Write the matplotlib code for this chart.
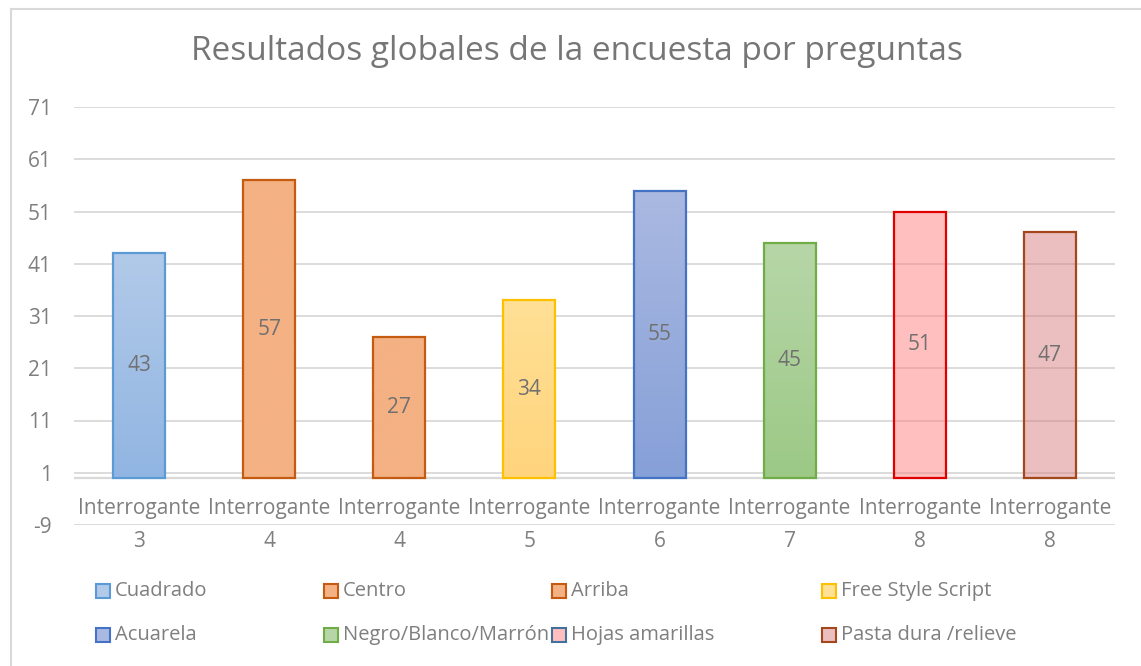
import matplotlib
matplotlib.use("Agg")
import matplotlib.pyplot as plt
import matplotlib.patches as mpatches
import matplotlib.colors as mcolors
import numpy as np

plt.rcParams['font.family'] = ['Open Sans', 'DejaVu Sans']

# ---- data ----
series = ["Cuadrado", "Centro", "Arriba", "Free Style Script",
          "Acuarela", "Negro/Blanco/Marrón", "Hojas amarillas", "Pasta dura /relieve"]
cat_top = ["Interrogante"] * 8
cat_num = ["3", "4", "4", "5", "6", "7", "8", "8"]
values = [43, 57, 27, 34, 55, 45, 51, 47]
yticks = [-9, 1, 11, 21, 31, 41, 51, 61, 71]
title = "Resultados globales de la encuesta por preguntas"

# style (top colour, bottom colour, edge, alpha)
fill_top = ["#B2CAE9", "#F4B183", "#F4B183", "#FFE095", "#AAB9E1", "#B7D6A8", "#FF8080", "#D98080"]
fill_bot = ["#91B5E2", "#F4B183", "#F4B183", "#FFD47D", "#86A0D8", "#9CC986", "#FF8080", "#D98080"]
edges = ["#5B9BD5", "#C55A11", "#C55A11", "#FFC000", "#4472C4", "#70AD47", "#E00000", "#A5471C"]
alphas = [1, 1, 1, 1, 1, 1, 0.5, 0.5]
legend_edges = ["#5B9BD5", "#C55A11", "#C55A11", "#FFC000", "#4472C4", "#70AD47", "#41719C", "#A5471C"]

W, H = 1141, 666
fig = plt.figure(figsize=(W / 100, H / 100), dpi=100)
fig.patch.set_facecolor("white")

def px_x(x):
    return x / W

def px_y(y):
    return 1 - y / H

ax = fig.add_axes([px_x(74), px_y(525), px_x(1115) - px_x(74), px_y(107) - px_y(525)])
ax.set_facecolor("white")
ax.set_xlim(-0.5, 7.5)
ax.set_ylim(-9, 71)

txt = "#7F7F7F"
grid_c = "#D9D9D9"
fs = 15

for t in yticks:
    ax.axhline(t, color=grid_c, lw=1.3, zorder=0)
ax.axhline(0, color=grid_c, lw=1.6, zorder=0.5)

ax.set_yticks(yticks)
ax.set_yticklabels([str(t) for t in yticks])
ax.tick_params(axis='y', length=0, pad=16, labelsize=fs, labelcolor=txt)
ax.set_xticks([])
for s in ax.spines.values():
    s.set_visible(False)

x = np.arange(len(values))
bars = ax.bar(x, values, width=0.4, bottom=0, facecolor="none",
              edgecolor=edges, linewidth=1.6, zorder=3)

for i, b in enumerate(bars):
    if alphas[i] < 1:
        b.set_facecolor(mcolors.to_rgba(fill_top[i], alphas[i]))
    else:
        cmap = mcolors.LinearSegmentedColormap.from_list("g", [fill_bot[i], fill_top[i]])
        grad = np.linspace(0, 1, 256).reshape(-1, 1)
        x0 = b.get_x()
        im = ax.imshow(grad, cmap=cmap, origin="lower", aspect="auto",
                       extent=(x0, x0 + b.get_width(), 0, values[i]), zorder=2)
        im.set_clip_path(b)
    ax.text(i, values[i] / 2, str(values[i]), ha="center", va="center",
            fontsize=fs, color="#707070", zorder=4)

ax.set_xlim(-0.5, 7.5)
ax.set_ylim(-9, 71)

for i in range(len(values)):
    ax.text(i, -5.75, cat_top[i], ha="center", va="center", fontsize=fs,
            color=txt, clip_on=False)
    ax.text(i, -12.1, cat_num[i], ha="center", va="center", fontsize=fs,
            color=txt, clip_on=False)

fig.text(px_x(577), px_y(52), title, ha="center", va="center",
         fontsize=24, color="#767676")

# legend (manual layout)
col_x = [96, 324, 552, 822]
row_y = [591, 635]
sq = 14
for i, name in enumerate(series):
    cx = col_x[i % 4]
    cy = row_y[i // 4]
    rect = mpatches.Rectangle((px_x(cx), px_y(cy + sq / 2)), sq / W, sq / H,
                              transform=fig.transFigure,
                              facecolor=mcolors.to_rgba(fill_top[i], alphas[i]) if alphas[i] < 1 else fill_top[i],
                              edgecolor=legend_edges[i], linewidth=1.5)
    fig.patches.append(rect)
    fig.text(px_x(cx + sq + 5), px_y(cy), name, ha="left", va="center",
             fontsize=14.5, color=txt)

# chart border
fig.add_artist(plt.Line2D([px_x(10.5), px_x(10.5)], [0, px_y(8.5)],
                          transform=fig.transFigure, color="#D9D9D9", lw=1.5))
fig.add_artist(plt.Line2D([px_x(10.5), 1], [px_y(8.5), px_y(8.5)],
                          transform=fig.transFigure, color="#D9D9D9", lw=1.5))

fig.savefig("out.png", dpi=100, facecolor="white")
